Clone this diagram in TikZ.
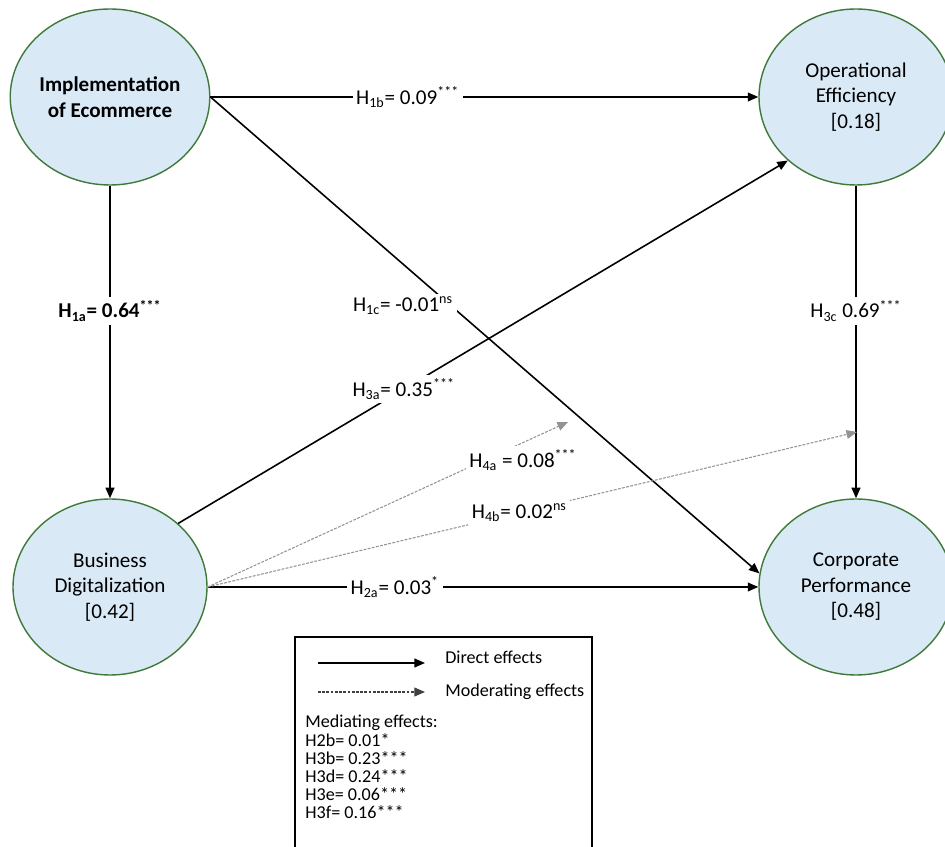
\documentclass[tikz,border=0pt]{standalone}
\usepackage{fontspec}
\setmainfont{Carlito}
\usepackage{tikz}
\usetikzlibrary{arrows.meta, positioning, shapes.geometric}
\definecolor{cblue}{HTML}{DAE9F6}
\definecolor{cgreen}{HTML}{3F7A3A}

\begin{document}
\begin{tikzpicture}[x=1cm, y=1cm,
  construct/.style={ellipse, draw=cgreen, line width=0.8pt, fill=cblue,
    minimum width=3.88cm, minimum height=3.52cm, inner sep=0pt,
    align=center, font=\fontsize{12}{14.5}\selectfont},
  direct/.style={line width=0.9pt, -{Triangle[length=6pt, width=5pt]}},
  moder/.style={gray!85, line width=0.6pt, dash pattern=on 1.6pt off 0.8pt,
    -{Triangle[length=6pt, width=5pt]}},
  coef/.style={fill=white, text=black, inner sep=2pt, font=\fontsize{12}{14}\selectfont},
  legtext/.style={anchor=west, inner sep=0pt, font=\fontsize{10.3}{11}\selectfont}]
\useasboundingbox (0,0) rectangle (18.9,16.94);
\fill[white] (0,0) rectangle (18.9,16.94);

% constructs
\node[construct, font=\fontsize{12}{14.5}\selectfont\bfseries] (impl) at (2.20,15.00)
  {Implementation\\of Ecommerce};
\node[construct] (oe) at (17.12,15.00) {Operational\\Efficiency\\{}[0.18]};
\node[construct] (bd) at (2.20,5.20) {Business\\Digitalization\\{}[0.42]};
\node[construct] (cp) at (17.12,5.20) {Corporate\\Performance\\{}[0.48]};

% direct effects
\draw[direct] (impl.east) -- node[coef, pos=0.36] (h1b)
  {H\textsubscript{1b}= 0.09\textsuperscript{***}} (oe.west);
\draw[direct] (impl.south) -- node[coef, pos=0.40, font=\fontsize{12}{14}\selectfont\bfseries] (h1a)
  {H\textsubscript{1a}= 0.64\textsuperscript{***}} (bd.north);
\draw[direct] (oe.south) -- node[coef, pos=0.40] (h3c)
  {H\textsubscript{3c} 0.69\textsuperscript{***}} (cp.north);
\draw[direct] (bd.east) -- node[coef, pos=0.34] (h2a)
  {H\textsubscript{2a}= 0.03\textsuperscript{*}} (cp.west);
\draw[direct] (impl.east) -- (cp.172);
\draw[direct] (bd.43) -- node[coef, pos=0.37] (h3a)
  {H\textsubscript{3a}= 0.35\textsuperscript{***}} (oe.223);

% moderating effects
\coordinate (m4a) at (11.36,8.50);
\coordinate (m4b) at (17.14,8.30);
\draw[moder] (bd.east) -- (m4a);
\draw[moder] (bd.east) -- node[coef, pos=0.48] (h4b)
  {H\textsubscript{4b}= 0.02\textsuperscript{ns}} (m4b);
\node[coef] (h1c) at (8.06,10.82) {H\textsubscript{1c}= -0.01\textsuperscript{ns}};
\node[coef] (h4a) at (10.46,7.74) {H\textsubscript{4a} = 0.08\textsuperscript{***}};

% legend
\draw[line width=0.8pt] (5.90,0) -- (5.90,4.20) -- (11.84,4.20) -- (11.84,0);
\coordinate (ld0) at (6.36,3.68);
\coordinate (ld1) at (8.50,3.68);
\coordinate (lm0) at (6.36,3.10);
\coordinate (lm1) at (8.50,3.10);
\draw[direct] (ld0) -- (ld1);
\draw[moder, black!75] (lm0) -- (lm1);
\node[legtext] (ldtxt) at (8.90,3.80) {Direct effects};
\node[legtext] (lmtxt) at (8.90,3.10) {Moderating effects};
\node[legtext, anchor=north west, align=left, font=\fontsize{10.3}{10.3}\selectfont]
  (medlist) at (6.10,2.64)
  {Mediating effects:\\H2b= 0.01*\\H3b= 0.23***\\H3d= 0.24***\\H3e= 0.06***\\H3f= 0.16***};
\end{tikzpicture}
\end{document}
